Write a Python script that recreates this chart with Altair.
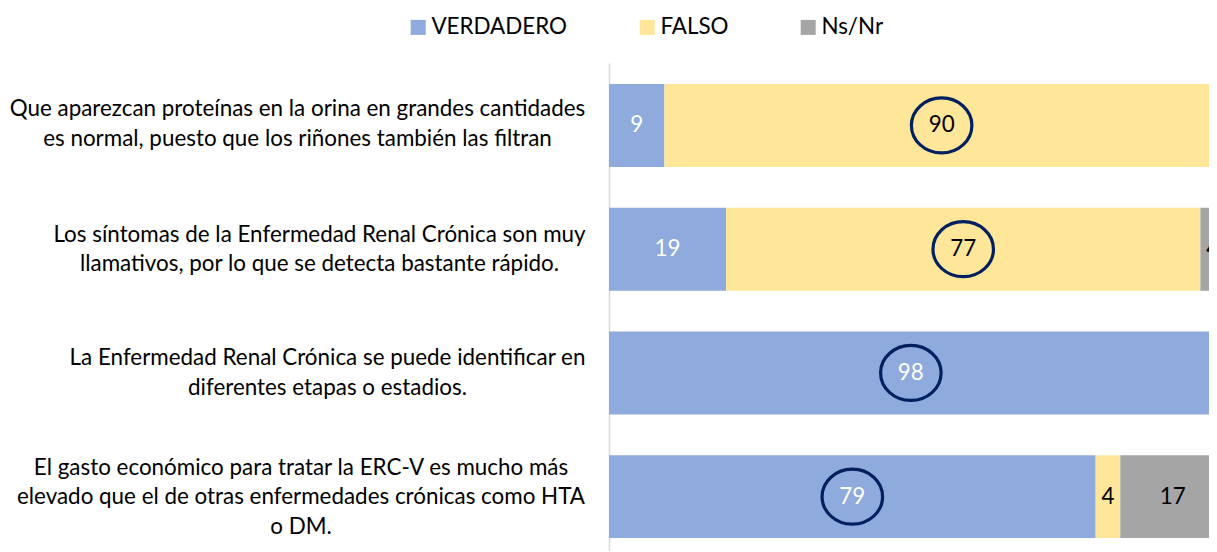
import altair as alt
import pandas as pd

preguntas = [
    "Que aparezcan proteínas en la orina en grandes cantidades\nes normal, puesto que los riñones también las filtran",
    "Los síntomas de la Enfermedad Renal Crónica son muy\nllamativos, por lo que se detecta bastante rápido.",
    "La Enfermedad Renal Crónica se puede identificar en\ndiferentes etapas o estadios.",
    "El gasto económico para tratar la ERC-V es mucho más\nelevado que el de otras enfermedades crónicas como HTA\no DM.",
]
respuestas = ["VERDADERO", "FALSO", "Ns/Nr"]
verdadero = [9, 19, 98, 79]
falso = [90, 77, 1, 4]
nsnr = [1, 4, 1, 17]
colores = ["#8FAADC", "#FFE699", "#A5A5A5"]

rows = []
for i, p in enumerate(preguntas):
    for j, (r, serie) in enumerate(zip(respuestas, [verdadero, falso, nsnr])):
        rows.append({"pregunta": p, "respuesta": r, "valor": serie[i], "orden": j})
df = pd.DataFrame(rows)

FONT = "Lato"
FS = 22.4

# centred multi-line labels: per-label padding (style) and vertical centring
label_padding = {
    "condition": [
        {"test": "indexof(datum.value, 'Que aparezcan') >= 0", "value": 312},
        {"test": "indexof(datum.value, 'Los síntomas') >= 0", "value": 290},
        {"test": "indexof(datum.value, 'La Enfermedad') >= 0", "value": 282},
    ],
    "value": 308.5,
}
label_offset = {
    "condition": [
        {"test": "indexof(datum.value, 'HTA') >= 0", "value": -29},
        {"test": "indexof(datum.value, 'Que aparezcan') >= 0", "value": -16},
    ],
    "value": -14.5,
}

x_scale = alt.Scale(domain=[0, 97.4], nice=False, zero=True)
y_enc = alt.Y(
    "pregunta:N",
    sort=preguntas,
    scale=alt.Scale(paddingInner=0.33, paddingOuter=0.137, align=0.62),
    axis=alt.Axis(
        title=None,
        labelExpr="split(datum.label, '\\n')",
        labelAlign="center",
        labelBaseline="middle",
        labelFont=FONT,
        labelFontSize=FS,
        labelColor="black",
        labelPadding=label_padding,
        labelOffset=label_offset,
        labelLimit=0,
        labelLineHeight=29.5,
        ticks=False,
        domainColor="#D9D9D9",
        domainWidth=1.5,
    ),
)

base = alt.Chart(df)

bars = base.mark_bar(clip=True).encode(
    x=alt.X("valor:Q", stack="zero", scale=x_scale, axis=None),
    y=y_enc,
    color=alt.Color(
        "respuesta:N",
        scale=alt.Scale(domain=respuestas, range=colores),
        legend=alt.Legend(
            orient="none",
            legendX=-202,
            legendY=-47,
            direction="horizontal",
            columns=3,
            title=None,
            symbolType="square",
            symbolSize=225,
            symbolStrokeWidth=0,
            symbolOpacity=1,
            labelFont=FONT,
            labelFontSize=FS,
            labelColor="black",
            columnPadding=68,
            labelOffset=2,
            padding=0,
        ),
    ),
    order=alt.Order("orden:Q"),
)

stacked = base.transform_stack(
    stack="valor", groupby=["pregunta"], as_=["v0", "v1"], sort=[alt.SortField("orden")]
).transform_calculate(mid="(datum.v0 + datum.v1) / 2")

ellipse = "M -1.1 0 A 1.1 1 0 1 1 1.1 0 A 1.1 1 0 1 1 -1.1 0 Z"
circles = stacked.transform_joinaggregate(
    maxv="max(valor)", groupby=["pregunta"]
).transform_filter("datum.valor == datum.maxv").mark_point(
    shape=ellipse, size=3025, filled=False, stroke="#002060", strokeWidth=3.2, opacity=1, clip=True
).encode(
    x=alt.X("mid:Q", scale=x_scale, axis=None),
    y=y_enc,
)

texts = stacked.transform_filter("datum.valor >= 2").mark_text(
    font=FONT, fontSize=FS, clip=True, baseline="middle", align="center"
).encode(
    x=alt.X("mid:Q", scale=x_scale, axis=None),
    y=y_enc,
    text=alt.Text("valor:Q"),
    color=alt.condition("datum.respuesta == 'VERDADERO'", alt.value("white"), alt.value("black")),
)

chart = alt.layer(bars, circles, texts).properties(
    width=600,
    height=488,
    autosize=alt.AutoSizeParams(type="none"),
    padding={"left": 601, "top": 55, "right": 0, "bottom": 0},
    background="white",
).configure_view(stroke=None)

chart.save("out.html", embed_options={"renderer": "svg", "actions": False})
